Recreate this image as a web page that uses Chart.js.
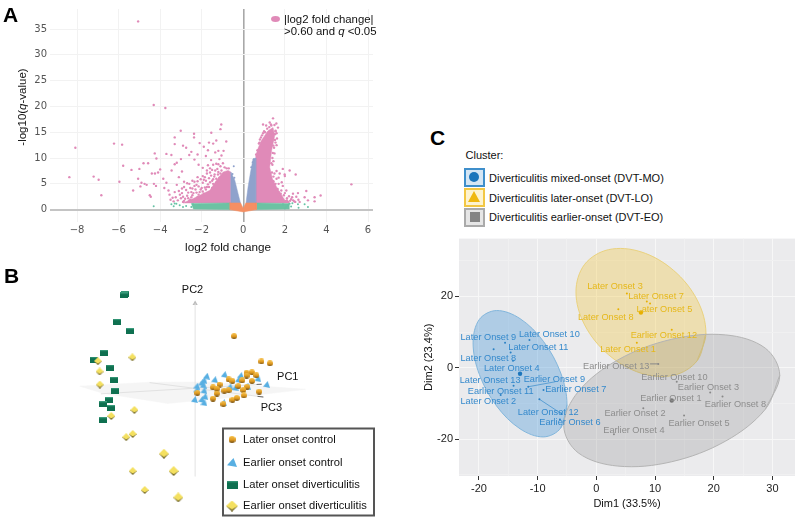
<!DOCTYPE html>
<html>
<head>
<meta charset="utf-8">
<script src="https://cdn.jsdelivr.net/npm/chart.js@4"></script>
<style>
  html, body { margin: 0; padding: 0; background: #fff; }
  body { position: relative; width: 800px; height: 520px; overflow: hidden; font-family: "Liberation Sans", Arial, sans-serif; color: #111; }
  canvas.panel { position: absolute; }
  .txt { position: absolute; white-space: nowrap; }
  .letter { position: absolute; font-weight: bold; font-size: 21px; line-height: 21px; color: #000; }
  .key { position: absolute; left: 464px; width: 17px; height: 15px; border: 2px solid; }
</style>
</head>
<body>
<canvas class="panel" id="volcano" style="left:0;top:0"></canvas>
<canvas class="panel" id="pca" style="left:0;top:260px"></canvas>
<canvas class="panel" id="cluster" style="left:420px;top:230px"></canvas>

<div class="letter" style="left:3px;top:4px">A</div>
<div class="letter" style="left:4px;top:265px">B</div>
<div class="letter" style="left:430px;top:127px">C</div>

<div class="txt" style="left:21.5px;top:106.5px;font-size:11.5px;transform:translate(-50%,-50%) rotate(-90deg)">-log10(<i>q</i>-value)</div>
<div class="txt" style="left:228px;top:245.5px;font-size:11.7px;transform:translate(-50%,-50%)">log2 fold change</div>
<div style="position:absolute;left:271px;top:16px;width:9px;height:6px;border-radius:50%;background:#e08ab8"></div>
<div class="txt" style="left:284px;top:12.5px;font-size:11.4px;line-height:12.3px">|log2 fold change|<br>&gt;0.60 and <i>q</i> &lt;0.05</div>

<div class="txt" style="left:465.5px;top:149px;font-size:11px">Cluster:</div>
<div class="key" style="top:168px;border-color:#3f8fcb;background:#d5e6f4"></div>
<div style="position:absolute;left:469px;top:172px;width:10px;height:10px;border-radius:50%;background:#1b75bb"></div>
<div class="key" style="top:187.5px;border-color:#f2c744;background:#fdf3d0"></div>
<div style="position:absolute;left:468px;top:191px;width:0;height:0;border-left:6px solid transparent;border-right:6px solid transparent;border-bottom:11px solid #efb810"></div>
<div class="key" style="top:207.5px;border-color:#aaaaaa;background:#e6e6e6"></div>
<div style="position:absolute;left:469.5px;top:212px;width:10px;height:10px;background:#858585"></div>
<div class="txt" style="left:489px;top:172px;font-size:11px">Diverticulitis mixed-onset (DVT-MO)</div>
<div class="txt" style="left:489px;top:191.5px;font-size:11px">Diverticulitis later-onset (DVT-LO)</div>
<div class="txt" style="left:489px;top:211px;font-size:11px">Diverticulitis earlier-onset (DVT-EO)</div>

<script>
// Panel A: log2 fold change, -log10(q)
const volcanoXTicks = [-8, -6, -4, -2, 0, 2, 4, 6];
const volcanoYTicks = [0, 5, 10, 15, 20, 25, 30, 35];

const pinkLeftScatter = [[-5.06,36.5],[-4.31,20.3],[-3.75,19.7],[-8.08,12],[-6.22,12.8],[-5.83,12.6],[-5.78,8.5],[-8.37,6.3],[-7.2,6.4],[-6.96,5.8],[-6.83,2.8],[-5.96,5.4],[-5.3,3.7],[-5.38,7.7],[-5.06,6],[-5,7.9],[-4.8,9],[-4.58,9],[-4.26,10.9],[-4.18,9.9],[-3.7,10.8],[-3.46,10.6],[-3.3,14],[-3.01,15.3],[-3.3,12.7],[-2.9,12.4],[-2.37,14.7],[-2.37,14],[-1.54,14.9],[-1.06,16.5],[-1.1,15.6],[-0.82,13.2],
  [-4.9,5.2],[-4.75,5],[-4.65,4.8],[-4.95,4.5],[-4.5,2.8],[-4.45,2.5],[-4.3,5],[-4.2,4.6],[-4.4,7],[-4.25,7],[-4.1,7.2],[-4,7.8],[-3.85,6],[-3.7,5.2],[-3.8,4.2],[-3.6,3.7],[-3.55,2.9],[-3.4,2.3],[-3.3,3.4],[-3.2,4.8],[-3.45,7.6],[-3.3,8.8],[-3.2,9.1],[-3,9.8],[-2.95,7.4],[-3.1,6.3],[-2.85,5.4],[-2.7,5.1],[-2.6,10.6],[-2.75,12],[-2.5,11.2],[-2.35,9.7],[-2.2,10.7],[-2.1,12.9],[-1.9,12.2],[-2.15,8.7],[-1.95,8.1],[-1.8,10.4],[-1.7,11.5],[-1.65,13],[-1.45,12.8],[-1.3,13.4],[-1.35,11.1],[-1.55,9.6],[-1.2,11.4],[-0.95,11.4],[-1.15,9.8],[-1.05,10.5],[-1.45,8.7],[-1.7,8.6],[-1.75,7.6],[-1.95,6.5],[-2.2,6.3],[-2.45,5.6],[-2.6,5],[-2.35,4.6],[-2.55,4.2],[-2.3,3.9],[-2.75,3.8],[-2.95,3.2],[-2.7,2.7],[-3,2.2],[-3.15,1.8],[-2.85,1.7],[-2.6,1.7],[-2.5,2.4],[-2.2,5.5],[-1.95,5.2],[-1.8,5.6],[-1.55,6.6],[-1.6,7.2],[-1.4,6.4],[-1.25,7.9],[-1.1,8.4],[-0.9,8.2],[-0.98,9],[-1.05,7.6],[-1.45,5],[-1.7,4.9],[-1.85,4.3],[-2.05,3.9],[-1.75,7],[-2.15,2.9],[-1.5,4.2],[-1.3,6],[-1.22,6.8],[-0.8,8],[-0.7,8],
  [-2.9,1.5],[-2.8,2.1],[-2.65,2.2],[-2.55,1.9],[-2.45,2.8],[-2.4,3.2],[-2.25,3.3],[-2.2,2.4],[-2.1,3.4],[-2,4.2],[-1.95,3.5],[-1.9,3.1],[-1.8,3.9],[-1.75,4.4],[-1.65,4.4],[-1.6,5.3],[-1.5,5.6],[-1.45,5.9],[-1.38,6.8],[-1.3,5.2],[-1.2,7.3],[-1.15,6.2],[-1.1,7],[-2.35,5.4],[-2.25,4.8],[-2.15,4.5],[-2.05,5.9],[-1.9,5.8],[-1.85,6.3],[-1.65,6.1],[-1.6,8],[-1.5,7.7],[-1.35,7.6],[-1.3,8.9],[-1.2,8.8],[-3.05,2.9],[-2.9,2.5],[-3.25,2.4],[-3.35,1.6],[-3.5,1.9],[-2.65,3.3],[-2.5,3.4],[-2.45,4.1],[-2.85,4.4],[-2.95,4.1],[-3.1,3.6]];
const pinkRightScatter = [[5.2,4.9],[2.52,6.8],[1.9,7.9],[2.23,7.6],[1.99,6.8],[3.72,2.75],[3.43,2.4],[3.43,1.6],[3.03,3.6],[3.11,1.8],[2.63,3.2],[2.71,1.5],[2.95,2.4],[2.39,3.1],[2.07,3.7],[1.83,3.7],[0.95,16.5],[1.43,17.7],[1.59,16.7],[1.67,15.9],[1.27,16.9],[1.1,16.3],[1.55,15.3],[1.6,14.8],[1.5,16.4],[1.2,14.9],[1.05,15],[1.35,16.3],[1.62,13.8],[1.55,13],[1.45,12.4],[1.5,10.9],[1.45,9.4],[1.4,8.7],[1.6,7.5],[1.75,7],[1.7,6.2],[1.85,5.3],[2,6.5],[1.6,6],[1.5,7],[1.45,5.5],[1.7,5],[1.9,4.6],[2,3.2],[2.2,2.6],[2.1,2.2],[2.3,2],[2.4,1.8],[2.5,1.5],[2.25,1.7],[2.15,1.5],[2.55,2.5],[1.95,2.8],[1.8,3.1],[1.75,2.5],[1.65,4],[0.85,14],[0.95,14.8],[0.75,12.8],[0.68,11.5],[0.62,10.7],[1.3,14.5],[1.45,14.7],[1.4,13.5],[1.35,12.5],
  [1.45,6.4],[1.5,4.5],[1.6,3.6],[1.7,3.4],[1.55,5],[1.85,2.2],[1.9,1.9],[2.05,1.7],[2.1,1.8],[1.38,7.2],[1.35,9],[1.4,10],[1.42,11],[1.48,12],[1.52,13.5],[1.6,12.5],[0.8,13.6],[0.78,13],[0.9,14.4],[1,15.2],[1.15,15.7],[1.25,16],[1.33,16.5],[1.55,15.2],[1.52,14.6],[2.35,2.4],[2.45,1.6],[2.65,1.9]];
const greenScatter = [[-4.31,0.64],[-3.46,1.03],[-3.35,0.64],[-3.22,1.15],[-3.06,0.83],[-2.9,0.51],[-3.3,1.2],[-2.42,1.03],[-2.5,0.51],[-2.1,0.83],[-2.75,0.7],[2.07,0.51],[2.23,1.15],[2.36,1.25],[2.15,0.83],[2.3,0.6],[2.63,1.03],[2.66,0.38],[2.95,1.03],[3.11,0.51],[1.91,1.03],[2,0.2]];
const blueStray = [[-0.46,8.4],[-0.52,6.9],[-0.43,6.2],[0.5,9.7],[0.45,9.2],[0.38,8.2]];

// outlines of the areas too dense to read single dots from
const pinkLeftArea = [[-0.6,1.3],[-0.6,7.3],[-0.73,7.6],[-0.97,7.3],[-1.29,5.7],[-1.61,3.75],[-2.09,2.8],[-2.41,2.15],[-2.9,1.3],[-0.6,1.3]];
const pinkRightArea = [[0.6,1.3],[0.6,10.5],[0.72,12],[0.87,13.4],[1.19,15.3],[1.43,15.9],[1.51,14.3],[1.36,11.4],[1.27,8.2],[1.4,6],[1.6,4.4],[2,1.8],[2.24,1.3],[0.6,1.3]];
const blueLeftArea = [[-0.6,1.3],[-0.6,7.3],[-0.41,5.7],[-0.25,3.1],[-0.13,1.2],[-0.6,1.3]];
const blueRightArea = [[0.13,1.3],[0.23,4.4],[0.35,7.3],[0.47,9.85],[0.6,10],[0.6,1.3],[0.13,1.3]];
const greenLeftArea = [[-2.5,1.2],[-0.65,1.3],[-0.65,0],[-2.4,0.1],[-2.5,1.2]];
const greenRightArea = [[0.63,1.3],[2.2,1.2],[2.2,0.1],[0.63,0],[0.63,1.3]];
const orangeArea = [[-0.65,1.3],[-0.13,1.3],[0,0.2],[0.12,1.3],[0.63,1.3],[0.63,0],[0,-0.45],[-0.65,0],[-0.65,1.3]];

// Panel B: PCA projection, arbitrary units with the PC2 axis at 0
const laterControl = [[40,54],[68,27.7],[76.7,25.7],[52.7,16],[58.3,16.3],[52.7,13],[62.7,13.3],[34.3,9],[38.3,7.3],[48.3,8],[58.3,7.3],[25,3.7],[18.3,0.7],[22.3,-0.7],[44.3,2],[53.3,1.3],[49.3,-2],[30,-2.7],[34.3,-2.3],[22.3,-5.7],[2.3,-5],[65.7,-3.7],[50,-7.7],[18.3,-11],[38.3,-12.3],[42.7,-10.3],[29,-16.7]];
const earlierControl = [[11.7,12.3],[9,8],[6.7,5.3],[8.3,3],[1.7,2],[1.7,-2],[20,8.7],[30,14],[46.7,13],[44.3,8.7],[64.3,9.7],[73.3,3.7],[53.3,2],[35.7,1.3],[41,0.3],[9,-2.7],[10,-8.7],[6.7,-12],[-0.7,-12],[9,-15.3],[29,-15.3]];
const laterDivert = [[-72,98],[-72.7,96.3],[-80,69],[-66.7,59.3],[-93.3,36.7],[-103.3,29.7],[-87.7,21.3],[-83.3,8.7],[-81.7,-2.7],[-88.3,-12.3],[-94,-16.7],[-86,-20.7],[-94.3,-33.3]];
const earlierDivert = [[-64.3,32],[-99.7,28],[-98,17.3],[-97.7,3.7],[-62.3,-22.7],[-86,-29],[-64,-47.7],[-70.7,-51],[-64,-86.3],[-51.7,-106]];
const earlierDivertNear = [[-32,-68.3],[-22,-86.3],[-17.3,-113.7]];
const pcPlane = [[-118.3,2],[-48.3,6],[11.7,6.3],[113.3,-1.3],[65,-7],[-28.3,-16],[-95,-5.3],[-118.3,2]];
const pc1Axis = [[-96.7,-6],[68.3,4]];
const pc1Tip = [[63,3.8],[68.3,4]];
const pc2Axis = [[0,-92],[0,88]];
const pc3Axis = [[-46.7,5.7],[70,-9.3]];
const pc3Tip = [[64,-8.6],[70,-9.3]];
const axisNames = ['PC2', 'PC1', 'PC3'];
const axisNameX = [-2.7, 95, 78.3];
const axisNameY = [102.3, 11.3, -20.3];
const pcaLegendNames = ['Later onset control', 'Earlier onset control', 'Later onset diverticulitis', 'Earlier onset diverticulitis'];

// Panel C: clusters on Dim1 / Dim2
const clusterXGrid = [-20, -15, -10, -5, 0, 5, 10, 15, 20, 25, 30];
const clusterYGrid = [-30, -20, -10, 0, 10, 20, 30];

// confidence outlines, first two vertices repeated so the curve closes smoothly
const blueOutline = [[-5,-10.31],[-6.07,-16.87],[-9,-19.35],[-13,-17.08],[-17,-10.68],[-19.93,-1.87],[-21,7],[-19.93,13.57],[-17,16.05],[-13,13.78],[-9,7.38],[-6.07,-1.44],[-5,-10.31],[-6.07,-16.87]];
const yellowOutline = [[18.67,9.72],[17.19,2.01],[13.14,-2.1],[7.6,-1.49],[2.07,3.68],[-1.99,12.02],[-3.47,21.28],[-1.99,28.99],[2.07,33.1],[7.6,32.49],[13.14,27.32],[17.19,18.98],[18.67,9.72],[17.19,2.01]];
const grayOutline = [[31.25,-2.12],[28.78,-11.63],[22.05,-20.5],[12.85,-26.3],[3.65,-27.52],[-3.08,-23.82],[-5.55,-16.18],[-3.08,-6.67],[3.65,2.2],[12.85,8],[22.05,9.22],[28.78,5.52],[31.25,-2.12],[28.78,-11.63]];

const bluePoints = [[-15.55,7.06],[-11.4,7.8],[-14.6,4.3],[-17.5,5.2],[-14.2,2],[-14.1,-5],[-11.6,-5.3],[-16.3,-7.6],[-9,-6.2],[-9.7,-8.8],[-5.9,-12.9],[-6.2,-14.5]];
const yellowPoints = [[5.2,20.8],[8.6,18.6],[9.15,18.05],[3.75,16.4],[12.85,10.7],[6.9,7.06]];
const grayPoints = [[10.56,1.1],[13.7,-3.9],[19.4,-6.9],[21.5,-8.05],[8,-11.3],[14.95,-13.35],[3,-18.6]];
const clusterCentres = [[-13,-1.65],[7.6,15.5],[12.85,-9.15]];

const blueNames = ['Later Onset 9','Later Onset 10','Later Onset 11','Later Onset 8','Later Onset 4','Later Onset 13','Earlier Onset 9','Earlier Onset 11','Earlier Onset 7','Later Onset 2','Later Onset 12','Earlier Onset 6'];
const blueNameX = [-18.4,-8,-9.88,-18.4,-14.4,-18.1,-7.15,-16.3,-3.5,-18.4,-8.2,-4.5];
const blueNameY = [8.5,9.26,5.6,2.66,-0.27,-3.57,-3.2,-6.5,-6.1,-9.4,-12.4,-15.3];
const yellowNames = ['Later Onset 3','Later Onset 7','Later Onset 5','Later Onset 8','Earlier Onset 12','Later Onset 1'];
const yellowNameX = [3.18,10.17,11.6,1.6,11.5,5.4];
const yellowNameY = [22.9,20.1,16.4,14.2,9.1,5.2];
const grayNames = ['Earlier Onset 13','Earlier Onset 10','Earlier Onset 3','Earlier Onset 1','Earlier Onset 8','Earlier Onset 2','Earlier Onset 5','Earlier Onset 4'];
const grayNameX = [3.4,13.3,19.1,12.7,23.7,6.6,17.5,6.4];
const grayNameY = [0.47,-2.56,-5.5,-8.5,-10.2,-12.9,-15.6,-17.6];

function toXY(pairs) {
    return pairs.map(p => ({ x: p[0], y: p[1] }));
}

function dots(pairs, color, radius) {
    return { data: toXY(pairs), showLine: false, pointRadius: radius, pointBorderWidth: 0, pointBackgroundColor: color };
}

function area(pairs, fillColor, lineColor, tension) {
    return { data: toXY(pairs), showLine: true, fill: 'shape', pointRadius: 0, backgroundColor: fillColor, borderColor: lineColor, borderWidth: lineColor === fillColor ? 0.5 : 1, tension: tension };
}

function segment(pairs, color) {
    return { data: toXY(pairs), showLine: true, pointRadius: 0, borderColor: color, borderWidth: 1 };
}

// draws name lists at data positions
function namesPlugin(groups) {
    return {
        id: 'names',
        afterDatasetsDraw(chart) {
            const ctx = chart.ctx;
            ctx.save();
            ctx.textAlign = 'center';
            ctx.textBaseline = 'middle';
            groups.forEach(g => {
                ctx.fillStyle = g.color;
                ctx.font = g.font;
                g.names.forEach((name, i) => {
                    ctx.fillText(name, chart.scales.x.getPixelForValue(g.xs[i]), chart.scales.y.getPixelForValue(g.ys[i]));
                });
            });
            ctx.restore();
        }
    };
}

function sizeCanvas(id, w, h) {
    const c = document.getElementById(id);
    c.width = w;
    c.height = h;
    c.style.width = w + 'px';
    c.style.height = h + 'px';
    return c;
}

// small shaded markers for panel B
function makeMarker(kind, w, h) {
    const c = document.createElement('canvas');
    c.width = w;
    c.height = h;
    const ctx = c.getContext('2d');
    if (kind === 'ball') {
        const g = ctx.createLinearGradient(0, 0, 0, h);
        g.addColorStop(0, '#f6c04a');
        g.addColorStop(0.55, '#e09a20');
        g.addColorStop(1, '#6e4a10');
        ctx.fillStyle = g;
        ctx.beginPath();
        ctx.ellipse(w / 2, h / 2, w / 2, h / 2, 0, 0, Math.PI * 2);
        ctx.fill();
    } else if (kind === 'tri') {
        ctx.fillStyle = '#58afe2';
        ctx.beginPath();
        ctx.moveTo(w * 0.65, 0);
        ctx.lineTo(w, h);
        ctx.lineTo(0, h * 0.8);
        ctx.closePath();
        ctx.fill();
    } else if (kind === 'box') {
        ctx.fillStyle = '#0f7050';
        ctx.fillRect(0, 0, w, h);
        ctx.fillStyle = '#3a9c7c';
        ctx.fillRect(0, 0, w, Math.max(1, h * 0.2));
    } else {
        ctx.fillStyle = '#6e6320';
        ctx.beginPath();
        ctx.moveTo(0, h * 0.5);
        ctx.lineTo(w, h * 0.5);
        ctx.lineTo(w / 2, h);
        ctx.closePath();
        ctx.fill();
        ctx.fillStyle = '#f4e060';
        ctx.beginPath();
        ctx.moveTo(w / 2, 0);
        ctx.lineTo(w, h * 0.5);
        ctx.lineTo(w / 2, h * 0.82);
        ctx.lineTo(0, h * 0.5);
        ctx.closePath();
        ctx.fill();
    }
    return c;
}

function markerSet(pairs, marker) {
    return { data: toXY(pairs), showLine: false, pointRadius: 4, pointStyle: marker };
}

const pcaLegendMarkers = [makeMarker('ball', 7, 7), makeMarker('tri', 10, 9), makeMarker('box', 11, 8), makeMarker('gem', 12, 11)];
const pcaLegendPlugin = {
    id: 'pcaLegend',
    afterDraw(chart) {
        const ctx = chart.ctx;
        ctx.save();
        ctx.strokeStyle = '#555';
        ctx.lineWidth = 2;
        ctx.strokeRect(223, 168.5, 151, 87);
        ctx.fillStyle = '#111';
        ctx.font = '11.2px "Liberation Sans", Arial, sans-serif';
        ctx.textBaseline = 'middle';
        const rowY = [179.5, 202.5, 224.5, 246];
        pcaLegendNames.forEach((name, i) => {
            const m = pcaLegendMarkers[i];
            ctx.drawImage(m, 232 - m.width / 2, rowY[i] - m.height / 2);
            ctx.fillText(name, 243, rowY[i]);
        });
        ctx.restore();
    }
};

const hiddenPlugins = { legend: { display: false }, tooltip: { enabled: false } };

new Chart(sizeCanvas('volcano', 400, 260), {
    type: 'scatter',
    data: {
        datasets: [
            dots(greenScatter, '#66c2a5', 1),
            dots(blueStray, '#8da0cb', 1),
            dots(pinkLeftScatter, '#e08ab8', 1.2),
            dots(pinkRightScatter, '#e08ab8', 1.2),
            area(orangeArea, '#f58f63', '#f58f63', 0),
            area(greenLeftArea, '#6cc2a3', '#6cc2a3', 0),
            area(greenRightArea, '#6cc2a3', '#6cc2a3', 0),
            area(blueLeftArea, '#8fa2cc', '#8fa2cc', 0),
            area(blueRightArea, '#8fa2cc', '#8fa2cc', 0),
            area(pinkLeftArea, '#e08ab8', '#e08ab8', 0),
            area(pinkRightArea, '#e08ab8', '#e08ab8', 0)
        ]
    },
    options: {
        responsive: false,
        animation: false,
        layout: { padding: { left: 0, right: 27, top: 7, bottom: 0 } },
        plugins: hiddenPlugins,
        scales: {
            x: {
                type: 'linear',
                min: -9.3,
                max: 6.24,
                afterFit: s => { s.height = 38; },
                afterBuildTicks: s => { s.ticks = volcanoXTicks.map(v => ({ value: v })); },
                border: { display: false },
                grid: {
                    drawTicks: false,
                    color: c => (c.tick && c.tick.value === 0 ? '#a8a8a8' : '#f2f2f2'),
                    lineWidth: c => (c.tick && c.tick.value === 0 ? 1.6 : 1)
                },
                ticks: {
                    padding: 2,
                    autoSkip: false,
                    maxRotation: 0,
                    color: '#555',
                    font: { family: '"DejaVu Sans"', size: 10 },
                    callback: v => (v < 0 ? '\u2212' + Math.abs(v) : String(v))
                }
            },
            y: {
                type: 'linear',
                min: -2.4,
                max: 38.9,
                afterFit: s => { s.width = 50; },
                afterBuildTicks: s => { s.ticks = volcanoYTicks.map(v => ({ value: v })); },
                border: { display: false },
                grid: {
                    drawTicks: false,
                    color: c => (c.tick && c.tick.value === 0 ? '#c4c4c4' : '#f2f2f2'),
                    lineWidth: c => (c.tick && c.tick.value === 0 ? 2 : 1)
                },
                ticks: { padding: 3, autoSkip: false, color: '#555', font: { family: '"DejaVu Sans"', size: 10 } }
            }
        }
    }
});

new Chart(sizeCanvas('pca', 400, 260), {
    type: 'scatter',
    data: {
        datasets: [
            markerSet(earlierDivertNear, makeMarker('gem', 10, 10)),
            markerSet(earlierDivert, makeMarker('gem', 8, 8)),
            markerSet(laterDivert, makeMarker('box', 8, 6)),
            markerSet(laterControl, makeMarker('ball', 6, 6)),
            markerSet(earlierControl, makeMarker('tri', 7, 7)),
            segment(pc1Tip, '#666'),
            segment(pc3Tip, '#666'),
            segment(pc1Axis, '#e2e2e2'),
            segment(pc2Axis, '#e2e2e2'),
            segment(pc3Axis, '#e2e2e2'),
            { data: toXY([pc2Axis[1]]), showLine: false, pointRadius: 3, pointStyle: 'triangle', pointBackgroundColor: '#bbb', pointBorderWidth: 0 },
            area(pcPlane, '#f5f5f5', '#f5f5f5', 0)
        ]
    },
    plugins: [
        namesPlugin([{ names: axisNames, xs: axisNameX, ys: axisNameY, color: '#111', font: '11px "Liberation Sans", Arial, sans-serif' }]),
        pcaLegendPlugin
    ],
    options: {
        responsive: false,
        animation: false,
        layout: { padding: 0 },
        plugins: hiddenPlugins,
        scales: {
            x: { type: 'linear', min: -195, max: 205, display: false },
            y: { type: 'linear', min: -132, max: 128, display: false }
        }
    }
});

const clusterFont = '9.2px "Liberation Sans", Arial, sans-serif';
const plotBackground = {
    id: 'plotBackground',
    beforeDraw(chart) {
        const a = chart.chartArea;
        chart.ctx.fillStyle = '#ebebed';
        chart.ctx.fillRect(a.left, a.top, a.width, a.height);
    }
};

new Chart(sizeCanvas('cluster', 380, 290), {
    type: 'scatter',
    data: {
        datasets: [
            dots(clusterCentres.slice(0, 1), '#1b75bb', 2.2),
            dots(clusterCentres.slice(1, 2), '#e8b000', 2.2),
            dots(clusterCentres.slice(2), '#777', 2.2),
            dots(bluePoints, '#2a80c4', 1),
            dots(yellowPoints, '#e8b000', 1),
            dots(grayPoints, '#888', 1),
            segment([[-9.7,-8.8],[-5.9,-12.9]], '#5a9fd4'),
            segment([[-11.6,-5.3],[-7,-3.9]], '#5a9fd4'),
            segment([[9.15,1.1],[10.56,1.1]], '#888'),
            area(grayOutline, 'rgba(120,120,120,0.22)', '#b4b4b4', 0.35),
            area(yellowOutline, 'rgba(240,200,70,0.36)', '#ead27e', 0.35),
            area(blueOutline, 'rgba(70,150,215,0.36)', '#82b6dc', 0.35)
        ]
    },
    plugins: [
        plotBackground,
        namesPlugin([
            { names: blueNames, xs: blueNameX, ys: blueNameY, color: '#3489cc', font: clusterFont },
            { names: yellowNames, xs: yellowNameX, ys: yellowNameY, color: '#e6b81a', font: clusterFont },
            { names: grayNames, xs: grayNameX, ys: grayNameY, color: '#8d8d8d', font: clusterFont }
        ])
    ],
    options: {
        responsive: false,
        animation: false,
        layout: { padding: { left: 0, right: 5, top: 4, bottom: 0 } },
        plugins: hiddenPlugins,
        scales: {
            x: {
                type: 'linear',
                min: -23.4,
                max: 33.85,
                afterFit: s => { s.height = 44; },
                afterBuildTicks: s => { s.ticks = clusterXGrid.map(v => ({ value: v })); },
                border: { display: false },
                grid: {
                    tickLength: 4,
                    color: c => (c.tick && c.tick.value % 10 === 0 ? '#f7f7f7' : '#f0f0f1'),
                    tickColor: c => (c.tick && c.tick.value % 10 === 0 ? '#333' : 'rgba(0,0,0,0)')
                },
                ticks: {
                    padding: 2,
                    autoSkip: false,
                    maxRotation: 0,
                    color: '#222',
                    font: { family: '"Liberation Sans"', size: 11 },
                    callback: v => (v % 10 === 0 ? String(v) : '')
                },
                title: { display: true, text: 'Dim1 (33.5%)', color: '#111', font: { family: '"Liberation Sans"', size: 11 }, padding: { top: 0, bottom: 9 } }
            },
            y: {
                type: 'linear',
                min: -30.3,
                max: 36.2,
                afterFit: s => { s.width = 39; },
                afterBuildTicks: s => { s.ticks = clusterYGrid.map(v => ({ value: v })); },
                border: { display: false },
                grid: {
                    tickLength: 4,
                    color: c => (c.tick && c.tick.value % 20 === 0 ? '#f7f7f7' : '#f0f0f1'),
                    tickColor: c => (c.tick && c.tick.value % 20 === 0 ? '#333' : 'rgba(0,0,0,0)')
                },
                ticks: {
                    padding: 2,
                    autoSkip: false,
                    color: '#222',
                    font: { family: '"Liberation Sans"', size: 11 },
                    callback: v => (v % 20 === 0 ? String(v) : '')
                },
                title: { display: true, text: 'Dim2 (23.4%)', color: '#111', font: { family: '"Liberation Sans"', size: 11 }, padding: { top: 2, bottom: 0 } }
            }
        }
    }
});
</script>
</body>
</html>
